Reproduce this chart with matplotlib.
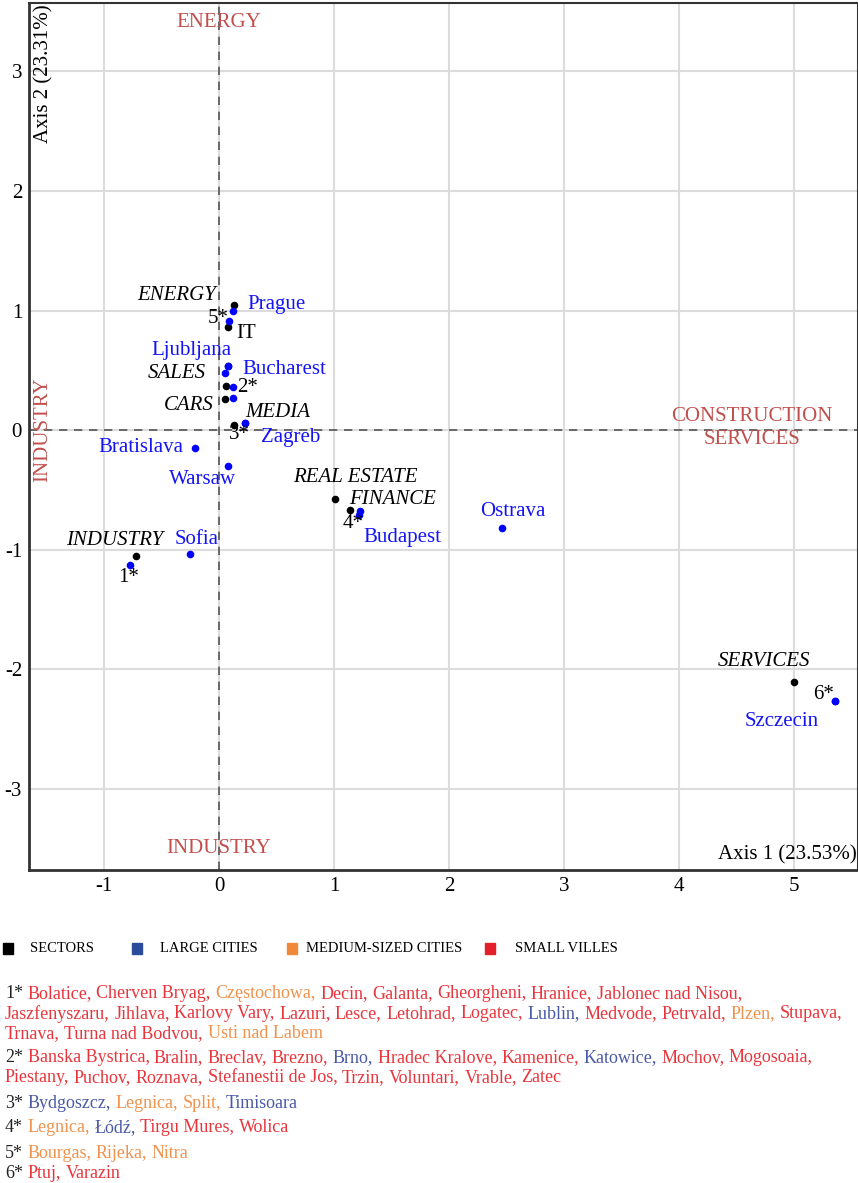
import matplotlib.pyplot as plt
from matplotlib.patches import Rectangle
from matplotlib.transforms import IdentityTransform

plt.rcParams['axes.unicode_minus'] = False

# sector coordinates on the first factorial plane
sector_names = ["ENERGY", "IT", "", "SALES", "CARS", "MEDIA",
                "REAL ESTATE", "FINANCE", "INDUSTRY", "SERVICES"]
sector_x = [0.13, 0.08, 0.08, 0.06, 0.05, 0.13, 1.01, 1.14, -0.72, 5.00]
sector_y = [1.05, 0.86, 0.54, 0.37, 0.26, 0.04, -0.58, -0.67, -1.05, -2.11]

# large cities
city_names = ["Prague", "Ljubljana", "Bucharest", "", "Zagreb", "Bratislava",
              "Warsaw", "Sofia", "Budapest", "Ostrava", "Szczecin"]
city_x = [0.12, 0.08, 0.05, 0.12, 0.23, -0.21, 0.08, -0.25, 1.23, 2.46, 5.36]
city_y = [1.00, 0.54, 0.48, 0.27, 0.06, -0.15, -0.30, -1.04, -0.68, -0.82, -2.27]

# groups of smaller towns (see footnotes)
group_names = ["1*", "2*", "3*", "4*", "5*", "6*"]
group_x = [-0.77, 0.12, 0.23, 1.22, 0.09, 5.36]
group_y = [-1.13, 0.36, 0.06, -0.71, 0.91, -2.27]

legend_labels = ["SECTORS", "LARGE CITIES", "MEDIUM-SIZED CITIES", "SMALL VILLES"]

# footnote members: (name, category)  L = large, M = medium, S = small
group_members = {
    "1*": [("Bolatice", "S"), ("Cherven Bryag", "S"), ("Częstochowa", "M"), ("Decin", "S"),
           ("Galanta", "S"), ("Gheorgheni", "S"), ("Hranice", "S"), ("Jablonec nad Nisou", "S"),
           ("Jaszfenyszaru", "S"), ("Jihlava", "S"), ("Karlovy Vary", "S"), ("Lazuri", "S"),
           ("Lesce", "S"), ("Letohrad", "S"), ("Logatec", "S"), ("Lublin", "L"),
           ("Medvode", "S"), ("Petrvald", "S"), ("Plzen", "M"), ("Stupava", "S"),
           ("Trnava", "S"), ("Turna nad Bodvou", "S"), ("Usti nad Labem", "M")],
    "2*": [("Banska Bystrica", "S"), ("Bralin", "S"), ("Breclav", "S"), ("Brezno", "S"),
           ("Brno", "L"), ("Hradec Kralove", "S"), ("Kamenice", "S"), ("Katowice", "L"),
           ("Mochov", "S"), ("Mogosoaia", "S"), ("Piestany", "S"), ("Puchov", "S"),
           ("Roznava", "S"), ("Stefanestii de Jos", "S"), ("Trzin", "S"), ("Voluntari", "S"),
           ("Vrable", "S"), ("Zatec", "S")],
    "3*": [("Bydgoszcz", "L"), ("Legnica", "M"), ("Split", "M"), ("Timisoara", "L")],
    "4*": [("Legnica", "M"), ("Łódź", "L"), ("Tirgu Mures", "S"), ("Wolica", "S")],
    "5*": [("Bourgas", "M"), ("Rijeka", "M"), ("Nitra", "M")],
    "6*": [("Ptuj", "S"), ("Varazin", "S")],
}

# names that start a new footnote line (as wrapped in the original)
line_starts = {"Jaszfenyszaru", "Trnava", "Piestany"}

# label offsets in pixels (ha, dx, dy)
sector_off = {"ENERGY": ("right", -18, 9), "IT": ("left", 8, -6), "SALES": ("right", -20, 12),
              "CARS": ("right", -11, -6), "MEDIA": ("left", 11, 13),
              "REAL ESTATE": ("center", 20, 22), "FINANCE": ("left", -1, 11),
              "INDUSTRY": ("right", 27, 15), "SERVICES": ("center", -30, 21)}
city_off = {"Prague": ("left", 15, 6), "Ljubljana": ("center", -37, 15),
            "Bucharest": ("left", 18, 3), "Zagreb": ("left", 16, -15),
            "Bratislava": ("right", -11, 1), "Warsaw": ("center", -26, -14),
            "Sofia": ("center", 6, 15), "Budapest": ("left", 3, -26),
            "Ostrava": ("center", 11, 17), "Szczecin": ("center", -54, -20)}
group_off = {"1*": ("center", -2, -12), "2*": ("left", 4, 0), "3*": ("center", -6, -12),
             "4*": ("center", -6, -9), "5*": ("right", -1, 3), "6*": ("right", -1, 7)}

SERIF = "Liberation Serif"
FS = 15
RED = "#C0504D"
BLUE = "#1414F5"
cat_colors = {"L": "#4A5AA6", "M": "#F0924E", "S": "#E8353C"}
legend_colors = ["#000000", "#2B4C9B", "#F0883A", "#E3202A"]

W, H = 858, 1183
fig = plt.figure(figsize=(W / 100, H / 100), dpi=100)
ax = fig.add_axes([29 / W, 1 - 870 / H, 829 / W, 867 / H])

ax.set_xlim(-1.652, 5.557)
ax.set_ylim(-3.68, 3.573)
ax.set_xticks(range(-1, 6))
ax.set_yticks(range(-3, 4))
ax.grid(color="#dcdcdc", linewidth=1.5)
ax.set_axisbelow(True)
ax.tick_params(length=0, labelsize=FS, pad=5)
for lab in ax.get_xticklabels() + ax.get_yticklabels():
    lab.set_fontfamily(SERIF)
for side in ["left", "bottom"]:
    ax.spines[side].set_linewidth(2)
    ax.spines[side].set_color("#333333")
for side in ["top", "right"]:
    ax.spines[side].set_linewidth(1.5)
    ax.spines[side].set_color("#333333")

ax.axvline(0, color="#555555", lw=1.2, dashes=(5, 4))
ax.axhline(0, color="#555555", lw=1.2, dashes=(5, 4))

ax.scatter(sector_x, sector_y, s=30, color="black", zorder=3, linewidths=0)
ax.scatter(city_x + group_x, city_y + group_y, s=30, color="blue", zorder=4, linewidths=0)


def put_labels(names, xs, ys, offsets, color, style):
    for n, x, y in zip(names, xs, ys):
        if not n:
            continue
        ha, dx, dy = offsets[n]
        # IT is printed upright in the original
        st = "normal" if n == "IT" else style
        ax.annotate(n, (x, y), xytext=(dx, dy), textcoords="offset pixels",
                    ha=ha, va="center", fontsize=FS, color=color,
                    fontstyle=st, family=SERIF, zorder=5)


put_labels(sector_names, sector_x, sector_y, sector_off, "black", "italic")
put_labels(city_names, city_x, city_y, city_off, BLUE, "normal")
put_labels(group_names, group_x, group_y, group_off, "black", "normal")

# axis titles inside the frame
ax.text(0.018, 0.998, "Axis 2 (23.31%)", transform=ax.transAxes, rotation=90,
        ha="center", va="top", fontsize=FS, family=SERIF)
ax.text(0.998, 0.017, "Axis 1 (23.53%)", transform=ax.transAxes,
        ha="right", va="center", fontsize=FS, family=SERIF)

# pole annotations
tx = ax.get_xaxis_transform()
ty = ax.get_yaxis_transform()
ax.text(0, 0.978, "ENERGY", transform=tx, ha="center", va="center", color=RED,
        fontsize=FS, family=SERIF)
ax.text(0, 0.025, "INDUSTRY", transform=tx, ha="center", va="center", color=RED,
        fontsize=FS, family=SERIF)
ax.text(0.016, 0, "INDUSTRY", transform=ty, rotation=90, ha="center", va="center",
        color=RED, fontsize=FS, family=SERIF)
ax.text(0.872, 0.02, "CONSTRUCTION\nSERVICES", transform=ty, ha="center", va="center",
        color=RED, fontsize=FS, family=SERIF, linespacing=1.3)

# legend row below the plot
ident = IdentityTransform()
leg_x = [3, 132, 287, 485]
leg_tx = [30, 160, 306, 515]
for lx, tx0, lab, col in zip(leg_x, leg_tx, legend_labels, legend_colors):
    fig.add_artist(Rectangle((lx, H - 954), 10, 11, transform=ident, color=col))
    fig.text(tx0, H - 948, lab, transform=ident, va="center", ha="left",
             fontsize=10.5, family=SERIF)

# footnotes with coloured names
renderer = fig.canvas.get_renderer()


def text_width(s, size):
    t = fig.text(0, 0, s, fontsize=size, family=SERIF, transform=ident)
    w = t.get_window_extent(renderer).width
    t.remove()
    return w


FN_SIZE = 13.0
space_w = text_width("a a", FN_SIZE) - text_width("aa", FN_SIZE)
group_top = [994, 1058, 1103, 1128, 1153, 1173]

for g, ytop in zip(group_names, group_top):
    x, y = 5, H - ytop
    t = fig.text(x, y, g, transform=ident, va="center", fontsize=FN_SIZE,
                 family=SERIF, color="#222222")
    x = t.get_window_extent(renderer).x1 + space_w
    members = group_members[g]
    for i, (name, cat) in enumerate(members):
        piece = name + ("," if i < len(members) - 1 else "")
        if name in line_starts:
            x, y = 5, y - 20
        t = fig.text(x, y, piece, transform=ident, va="center", fontsize=FN_SIZE,
                     family=SERIF, color=cat_colors[cat])
        x = t.get_window_extent(renderer).x1 + space_w

fig.savefig("out.png", dpi=100)
